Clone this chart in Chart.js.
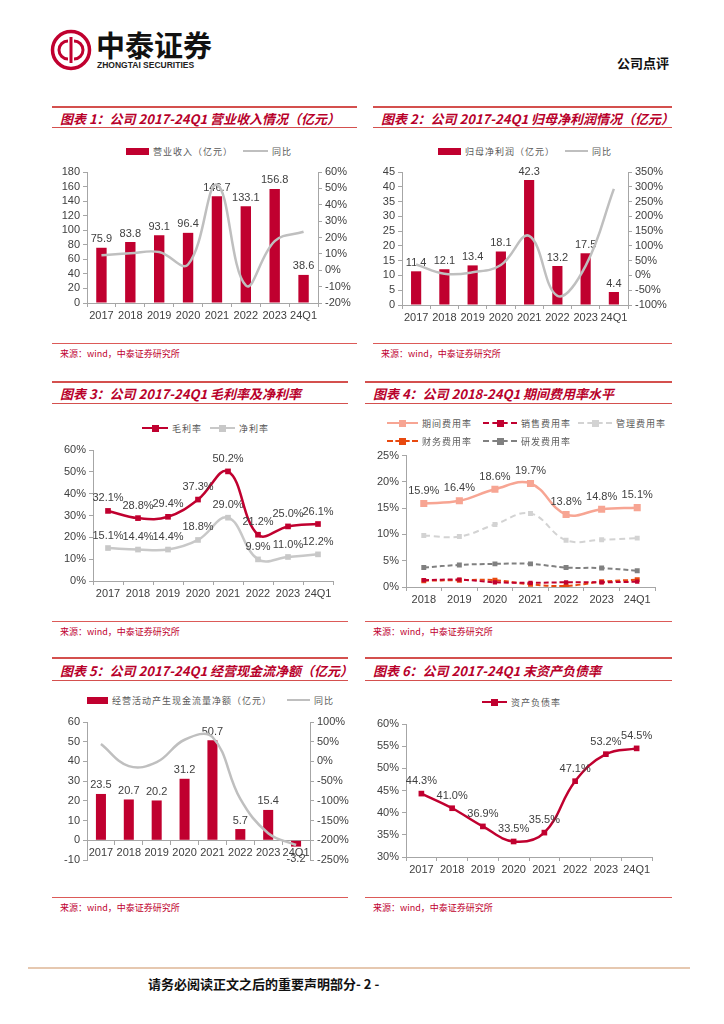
<!DOCTYPE html>
<html>
<head>
<meta charset="utf-8">
<script src="https://cdn.jsdelivr.net/npm/chart.js@4.4.0/dist/chart.umd.min.js"></script>
<style>
body { margin: 0; width: 724px; height: 1024px; position: relative; background: #fff; overflow: hidden;
       font-family: "Noto Sans CJK SC", sans-serif; }
.abs { position: absolute; }
.ttl { position: absolute; border-top: 2px solid #D4504E; border-bottom: 1px solid #D4504E; box-sizing: content-box;
       color: #B8002A; font-weight: bold; font-style: italic; font-size: 13px;
       padding-left: 8px; white-space: nowrap; }
.src { position: absolute; border-top: 1.5px solid #DC5A58; color: #C0002F; font-size: 9px; padding: 3px 0 0 8px;
       box-sizing: border-box; white-space: nowrap; }
.lg { position: absolute; height: 16px; display: flex; align-items: center; font-size: 9px; color: #595959;
      letter-spacing: 1px; white-space: nowrap; }
.lg i { display: inline-block; margin-right: 4px; position: relative; }
.lg b { position: absolute; left: 50%; top: 50%; width: 7px; height: 7px; margin: -4.5px 0 0 -3.5px; }
canvas { position: absolute; }
</style>
</head>
<body>

<svg class="abs" style="left:50px;top:29px" width="42" height="42" viewBox="0 0 42 42">
  <circle cx="21" cy="21" r="18.5" fill="none" stroke="#C0002F" stroke-width="3.5"/>
  <path d="M21 8 V34" stroke="#C0002F" stroke-width="3"/>
  <path d="M18 12 A9 9 0 0 0 18 30" fill="none" stroke="#C0002F" stroke-width="3"/>
  <path d="M24 12 A9 9 0 0 1 24 30" fill="none" stroke="#C0002F" stroke-width="3"/>
</svg>
<div class="abs" style="left:96px;top:29px;font-size:29px;font-weight:bold;line-height:30px;color:#111">中泰证券</div>
<div class="abs" style="left:97px;top:60px;font-size:8.5px;font-weight:bold;font-family:'Liberation Sans',Arial,sans-serif;color:#222">ZHONGTAI SECURITIES</div>
<div class="abs" style="left:617px;top:53px;font-size:13px;font-weight:bold;color:#111">公司点评</div>

<div class="ttl" style="left:52px;top:106px;width:297px;height:19px;line-height:21px">图表 1：公司 2017-24Q1 营业收入情况（亿元）</div>
<div class="ttl" style="left:373px;top:106px;width:291px;height:19px;line-height:21px">图表 2：公司 2017-24Q1 归母净利润情况（亿元）</div>
<div class="ttl" style="left:52px;top:381px;width:288px;height:20px;line-height:22px">图表 3：公司 2017-24Q1 毛利率及净利率</div>
<div class="ttl" style="left:365px;top:381px;width:299px;height:20px;line-height:22px">图表 4：公司 2018-24Q1 期间费用率水平</div>
<div class="ttl" style="left:52px;top:657px;width:288px;height:21px;line-height:24px">图表 5：公司 2017-24Q1 经营现金流净额（亿元）</div>
<div class="ttl" style="left:365px;top:657px;width:299px;height:21px;line-height:24px">图表 6：公司 2017-24Q1 末资产负债率</div>

<div class="src" style="left:52px;top:343px;width:305px">来源：wind，中泰证券研究所</div>
<div class="src" style="left:373px;top:343px;width:299px">来源：wind，中泰证券研究所</div>
<div class="src" style="left:52px;top:621px;width:296px">来源：wind，中泰证券研究所</div>
<div class="src" style="left:365px;top:621px;width:307px">来源：wind，中泰证券研究所</div>
<div class="src" style="left:52px;top:897px;width:296px">来源：wind，中泰证券研究所</div>
<div class="src" style="left:365px;top:897px;width:307px">来源：wind，中泰证券研究所</div>

<div class="abs" style="left:28px;top:967px;width:662px;height:2px;background:#E6C8B0"></div>
<div class="abs" style="left:148px;top:974px;font-size:13px;font-weight:bold;color:#111">请务必阅读正文之后的重要声明部分- 2 -</div>

<canvas id="c1" width="305" height="165" style="left:52px;top:160px"></canvas>
<canvas id="c2" width="299" height="167" style="left:373px;top:160px"></canvas>
<canvas id="c3" width="305" height="162" style="left:52px;top:440px"></canvas>
<canvas id="c4" width="299" height="162" style="left:373px;top:446px"></canvas>
<canvas id="c5" width="305" height="162" style="left:52px;top:712px"></canvas>
<canvas id="c6" width="299" height="166" style="left:373px;top:714px"></canvas>

<script>
const years8 = ['2017', '2018', '2019', '2020', '2021', '2022', '2023', '24Q1'];
const years7 = ['2018', '2019', '2020', '2021', '2022', '2023', '24Q1'];

const revenue = [75.9, 83.8, 93.1, 96.4, 146.7, 133.1, 156.8, 38.6];
const revenueYoy = [9.2, 10.4, 11.1, 3.5, 52.2, -9.3, 17.8, 23.5];

const netProfit = [11.4, 12.1, 13.4, 18.1, 42.3, 13.2, 17.5, 4.4];
const netProfitYoy = [37, 6.1, 10.7, 35.1, 133.7, -68.8, 32.6, 293];

const grossMargin = [32.1, 28.8, 29.4, 37.3, 50.2, 21.2, 25.0, 26.1];
const netMargin = [15.1, 14.4, 14.4, 18.8, 29.0, 9.9, 11.0, 12.2];

const periodExp = [15.9, 16.4, 18.6, 19.7, 13.8, 14.8, 15.1];
const sellExp = [1.3, 1.4, 0.9, 0.8, 0.9, 0.9, 1.0];
const adminExp = [9.8, 9.6, 11.9, 14.0, 8.9, 9.0, 9.3];
const finExp = [1.2, 1.3, 1.3, 0.5, 0.2, 1.0, 1.4];
const rdExp = [3.7, 4.2, 4.4, 4.4, 3.7, 3.6, 3.1];

const opCash = [23.5, 20.7, 20.2, 31.2, 50.7, 5.7, 15.4, -3.2];
const opCashYoy = [44, -12, -2, 55, 62, -95, -182, -212];

const debtRatio = [44.3, 41.0, 36.9, 33.5, 35.5, 47.1, 53.2, 54.5];

const RED = '#C0002F';
const axisColor = '#A6A6A6';
const tickFont = { family: '"Liberation Sans", Arial, sans-serif', size: 11 };

// draws the value above each bar / point, right after its own dataset
const valueLabels = {
    id: 'valueLabels',
    afterDatasetDraw(chart, args) {
        const ds = chart.data.datasets[args.index];
        if (!ds.showLabels) return;
        const ctx = chart.ctx;
        ctx.save();
        ctx.font = '11px "Liberation Sans", Arial, sans-serif';
        ctx.fillStyle = '#404040';
        ctx.textAlign = 'center';
        args.meta.data.forEach((el, i) => {
            const v = ds.data[i];
            const txt = v.toFixed(1) + (ds.labelSuffix || '');
            if (v < 0) {
                ctx.textBaseline = 'top';
                ctx.fillText(txt, el.x, el.y + 7);
            } else {
                ctx.textBaseline = 'bottom';
                ctx.fillText(txt, el.x, el.y - (ds.labelGap || 3));
            }
        });
        ctx.restore();
    }
};

function yAxis(pos, min, max, step, width, suffix) {
    return {
        position: pos,
        min: min,
        max: max,
        grid: { drawOnChartArea: false, tickLength: 4, color: axisColor },
        border: { color: axisColor },
        ticks: {
            stepSize: step,
            autoSkip: false,
            font: tickFont,
            color: '#404040',
            padding: 3,
            callback: function (value) {
                return value + (suffix || '');
            }
        },
        afterFit: s => { s.width = width; }
    };
}

function xAxis(height) {
    return {
        offset: true,
        grid: { offset: true, drawOnChartArea: false, tickLength: 4, color: axisColor },
        border: { color: axisColor },
        ticks: { font: tickFont, color: '#404040', padding: 2, maxRotation: 0, autoSkip: false },
        afterFit: s => { s.height = height; }
    };
}

function baseOptions(padding, scales) {
    return {
        responsive: false,
        animation: false,
        layout: { padding: padding },
        scales: scales,
        plugins: {
            legend: { display: false },
            tooltip: { enabled: false }
        }
    };
}

function barLineChart(el, labels, bars, line, scales, padding) {
    const config = {
        type: 'bar',
        data: {
            labels: labels,
            datasets: [{
                type: 'line',
                data: line,
                borderColor: '#BFBFBF',
                borderWidth: 2.5,
                pointRadius: 0,
                tension: 0.4,
                yAxisID: 'y1',
                order: 0
            }, {
                type: 'bar',
                data: bars,
                backgroundColor: RED,
                barPercentage: 0.36,
                categoryPercentage: 1,
                yAxisID: 'y',
                order: 1,
                showLabels: true
            }]
        },
        options: baseOptions(padding, scales),
        plugins: [valueLabels]
    };
    return new Chart(el, config);
}

function lineSet(data, color, width, radius, dash, labels) {
    return {
        data: data,
        borderColor: color,
        backgroundColor: color,
        borderWidth: width,
        borderDash: dash || [],
        pointStyle: 'rect',
        pointRadius: radius,
        pointBackgroundColor: color,
        pointBorderColor: color,
        pointBorderWidth: 0,
        tension: 0.4,
        showLabels: labels,
        labelSuffix: '%',
        labelGap: 7
    };
}

function lineChart(el, labels, datasets, scales, padding) {
    return new Chart(el, {
        type: 'line',
        data: { labels: labels, datasets: datasets },
        options: baseOptions(padding, scales),
        plugins: [valueLabels]
    });
}

function addLegend(x, y, kind, color, text, w, dashed) {
    const box = document.createElement('div');
    box.className = 'lg';
    box.style.left = x + 'px';
    box.style.top = (y - 8) + 'px';
    let mark;
    if (kind === 'bar') {
        mark = `<i style="width:${w}px;height:7px;background:${color}"></i>`;
    } else {
        const stroke = dashed ? '2px dashed ' : '2.5px solid ';
        mark = `<i style="width:${w}px;height:0;border-top:${stroke}${color}">` +
            (kind === 'sq' ? `<b style="background:${color}"></b>` : '') + '</i>';
    }
    box.innerHTML = mark + `<span>${text}</span>`;
    document.body.appendChild(box);
}

// chart 1
barLineChart(document.getElementById('c1'), years8, revenue, revenueYoy, {
    x: xAxis(22),
    y: yAxis('left', 0, 180, 20, 35),
    y1: yAxis('right', -20, 60, 10, 39, '%')
}, { top: 12, left: 0, right: 0, bottom: 0 });
addLegend(126, 151, 'bar', RED, '营业收入（亿元）', 23);
addLegend(243, 151, 'line', '#BFBFBF', '同比', 25);

// chart 2
barLineChart(document.getElementById('c2'), years8, netProfit, netProfitYoy, {
    x: xAxis(22),
    y: yAxis('left', 0, 45, 5, 29),
    y1: yAxis('right', -100, 350, 50, 44, '%')
}, { top: 12, left: 0, right: 0, bottom: 0 });
addLegend(438, 151, 'bar', RED, '归母净利润（亿元）', 23);
addLegend(565, 151, 'line', '#BFBFBF', '同比', 23);

// chart 3
lineChart(document.getElementById('c3'), years8, [
    lineSet(grossMargin, RED, 2.5, 4, null, true),
    lineSet(netMargin, '#C8C8C8', 2.5, 4, null, true)
], {
    x: xAxis(21),
    y: yAxis('left', 0, 60, 10, 41, '%')
}, { top: 10, left: 0, right: 24, bottom: 0 });
addLegend(142, 428, 'sq', RED, '毛利率', 26);
addLegend(210, 428, 'sq', '#C8C8C8', '净利率', 25);

// chart 4
lineChart(document.getElementById('c4'), years7, [
    lineSet(periodExp, '#F7A593', 2.5, 5, null, true),
    lineSet(sellExp, RED, 2, 3, [5, 3], false),
    lineSet(adminExp, '#D3D3D3', 2, 3.5, [6, 4], false),
    lineSet(finExp, '#E8490F', 2, 3.5, [5, 3], false),
    lineSet(rdExp, '#808080', 2, 3.5, [5, 3], false)
], {
    x: xAxis(21),
    y: yAxis('left', 0, 25, 5, 33, '%')
}, { top: 8, left: 0, right: 17, bottom: 0 });
addLegend(387, 423, 'sq', '#F7A593', '期间费用率', 31);
addLegend(483, 423, 'sq', RED, '销售费用率', 34, true);
addLegend(578, 423, 'sq', '#D3D3D3', '管理费用率', 34, true);
addLegend(387, 441, 'sq', '#E8490F', '财务费用率', 31, true);
addLegend(483, 441, 'sq', '#808080', '研发费用率', 34, true);

// chart 5
const x5 = xAxis(22);
x5.position = { y: 0 };
barLineChart(document.getElementById('c5'), years8, opCash, opCashYoy, {
    x: x5,
    y: yAxis('left', -10, 60, 10, 35),
    y1: yAxis('right', -250, 100, 50, 47, '%')
}, { top: 10, left: 0, right: 0, bottom: 14 });
addLegend(87, 700, 'bar', RED, '经营活动产生现金流量净额（亿元）', 21);
addLegend(287, 700, 'line', '#BFBFBF', '同比', 23);

// chart 6
lineChart(document.getElementById('c6'), years8, [
    lineSet(debtRatio, RED, 2.5, 4, null, true)
], {
    x: xAxis(23),
    y: yAxis('left', 30, 60, 5, 33, '%')
}, { top: 10, left: 0, right: 20, bottom: 0 });
addLegend(482, 702, 'sq', RED, '资产负债率', 25);
</script>
</body>
</html>
